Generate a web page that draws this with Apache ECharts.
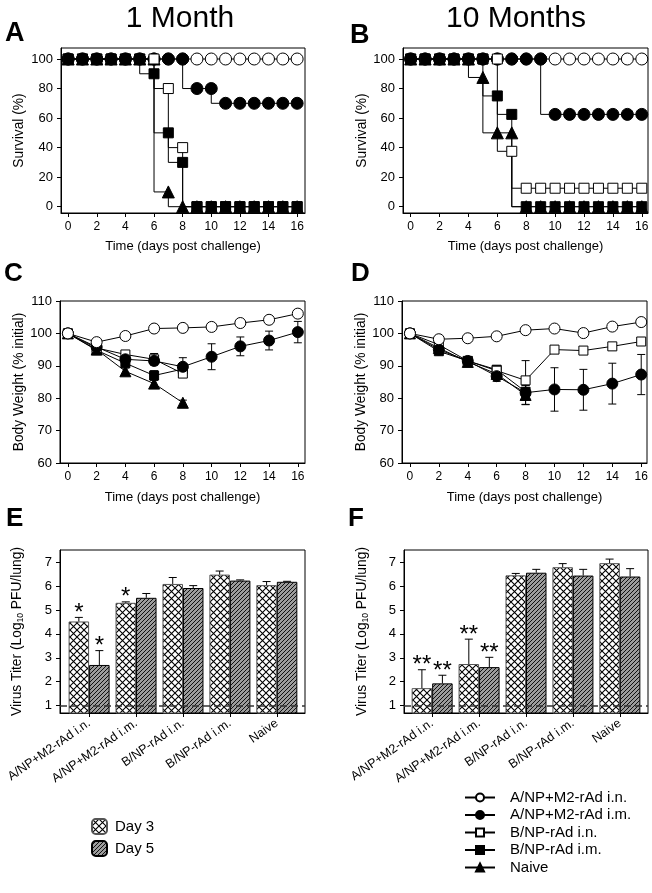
<!DOCTYPE html>
<html><head><meta charset="utf-8">
<script src="https://cdn.jsdelivr.net/npm/echarts@6/dist/echarts.min.js"></script>
<style>html,body{margin:0;padding:0;background:#fff}#c{width:652px;height:893px}</style>
</head><body><div id="c"></div>
<script>
const FONT = 'Liberation Sans, Arial, Helvetica, sans-serif';

// ---------- DATA ----------
const groups = ['A/NP+M2-rAd i.n.', 'A/NP+M2-rAd i.m.', 'B/NP-rAd i.n.', 'B/NP-rAd i.m.', 'Naive'];
const survDays = [0,1,2,3,4,5,6,7,8,9,10,11,12,13,14,15,16];
const timeTicks = [0,2,4,6,8,10,12,14,16];
const survTicks = [0,20,40,60,80,100];

// Panel A - survival, 1 month
const survA_ANPin = [100,100,100,100,100,100,100,100,100,100,100,100,100,100,100,100,100];
const survA_ANPim = [100,100,100,100,100,100,100,100,100,80,80,70,70,70,70,70,70];
const survA_BNPin = [100,100,100,100,100,100,100,80,40,0,0,0,0,0,0,0,0];
const survA_BNPim = [100,100,100,100,100,100,90,50,30,0,0,0,0,0,0,0,0];
const survA_Naive = [100,100,100,100,100,100,100,10,0,0,0,0,0,0,0,0,0];
// Panel B - survival, 10 months
const survB_ANPin = [100,100,100,100,100,100,100,100,100,100,100,100,100,100,100,100,100];
const survB_ANPim = [100,100,100,100,100,100,100,100,100,100,62.5,62.5,62.5,62.5,62.5,62.5,62.5];
const survB_BNPin = [100,100,100,100,100,100,100,37.5,12.5,12.5,12.5,12.5,12.5,12.5,12.5,12.5,12.5];
const survB_BNPim = [100,100,100,100,100,100,75,62.5,0,0,0,0,0,0,0,0,0];
const survB_Naive = [100,100,100,100,100,87.5,50,50,0,0,0,0,0,0,0,0,0];

// Panel C - body weight, 1 month
const bwDays = [0,2,4,6,8,10,12,14,16];
const bwC_ANPin = [100, 97.3, 99.2, 101.5, 101.7, 102.0, 103.2, 104.2, 106.1];
const bwC_ANPin_err = [0, 0.8, 0.8, 0.8, 0.8, 0.8, 0.8, 0.8, 1.0];
const bwC_ANPim = [100, 95.8, 92.0, 91.5, 89.7, 92.8, 96.0, 97.8, 100.4];
const bwC_ANPim_err = [0, 1.0, 1.0, 1.0, 2.8, 4.0, 2.9, 2.9, 3.3];
const bwC_BNPin = [100, 95.5, 93.5, 92.0, 87.6];
const bwC_BNPin_err = [0, 1.0, 1.0, 1.8, 1.2];
const bwC_BNPim = [100, 94.8, 90.8, 87.0, 89.0];
const bwC_BNPim_err = [0, 1.0, 1.0, 1.5, 1.5];
const bwC_Naive = [100, 95.0, 88.3, 84.5, 78.6];
const bwC_Naive_err = [0, 1.0, 1.0, 1.4, 0.8];
// Panel D - body weight, 10 months
const bwD_ANPin = [100, 98.2, 98.5, 99.1, 101.0, 101.5, 100.1, 102.1, 103.5];
const bwD_ANPin_err = [0, 0.6, 0.6, 0.6, 0.8, 0.8, 0.8, 0.8, 1.0];
const bwD_ANPim = [100, 95.0, 91.5, 86.8, 81.7, 82.7, 82.6, 84.5, 87.3];
const bwD_ANPim_err = [0, 1.0, 1.0, 1.6, 3.6, 6.7, 6.3, 6.3, 6.2];
const bwD_BNPin = [100, 96.5, 91.5, 88.5, 85.5, 95.0, 94.7, 96.0, 97.5];
const bwD_BNPin_err = [0, 1.0, 1.0, 1.0, 6.1, 1.0, 0.8, 1.0, 1.0];
const bwD_BNPim = [100, 94.5, 91.5, 88.8, 82.0];
const bwD_BNPim_err = [0, 1.0, 1.0, 1.0, 2.0];
const bwD_Naive = [100, 95.5, 91.2, 87.5, 81.0];
const bwD_Naive_err = [0, 1.0, 1.0, 1.0, 3.0];

// Panels E/F - virus titers
const titerCats = ['A/NP+M2-rAd i.n.', 'A/NP+M2-rAd i.m.', 'B/NP-rAd i.n.', 'B/NP-rAd i.m.', 'Naive'];
const titerTicks = [1,2,3,4,5,6,7];
const titerE_d3 = [4.52, 5.30, 6.09, 6.48, 6.04];
const titerE_d3_err = [0.17, 0.04, 0.27, 0.15, 0.15];
const titerE_d5 = [2.70, 5.51, 5.92, 6.23, 6.18];
const titerE_d5_err = [0.60, 0.18, 0.10, 0.03, 0.02];
const sigE_d3 = ['*', '*', '', '', ''];
const sigE_d5 = ['*', '', '', '', ''];
const titerF_d3 = [1.73, 2.74, 6.45, 6.79, 6.96];
const titerF_d3_err = [0.77, 1.04, 0.08, 0.15, 0.17];
const titerF_d5 = [1.93, 2.61, 6.56, 6.44, 6.40];
const titerF_d5_err = [0.34, 0.41, 0.14, 0.26, 0.33];
const sigF_d3 = ['**', '**', '', '', ''];
const sigF_d5 = ['**', '**', '', '', ''];
const detectionLimit = 1;

// ---------- STYLES ----------
const markers = [
  {symbol: 'circle', fill: '#fff'},
  {symbol: 'circle', fill: '#000'},
  {symbol: 'rect', fill: '#fff'},
  {symbol: 'rect', fill: '#000'},
  {symbol: 'triangle', fill: '#000'}
];
const drawOrder = [0, 1, 4, 2, 3];

function crossHatch() {
  const s = 7, c = document.createElement('canvas'); c.width = c.height = s;
  const g = c.getContext('2d');
  g.fillStyle = '#fff'; g.fillRect(0, 0, s, s);
  g.strokeStyle = '#000'; g.lineWidth = 1.1;
  g.beginPath(); g.moveTo(0, 0); g.lineTo(s, s); g.moveTo(s, 0); g.lineTo(0, s); g.stroke();
  return c;
}
function stripes() {
  const s = 4, c = document.createElement('canvas'); c.width = c.height = s;
  const g = c.getContext('2d');
  g.fillStyle = '#9c9c9c'; g.fillRect(0, 0, s, s);
  g.strokeStyle = '#111'; g.lineWidth = 1;
  g.beginPath();
  g.moveTo(0, s); g.lineTo(s, 0);
  g.moveTo(-1, 1); g.lineTo(1, -1);
  g.moveTo(s - 1, s + 1); g.lineTo(s + 1, s - 1);
  g.stroke();
  return c;
}
const patDay3 = {image: crossHatch(), repeat: 'repeat'};
const patDay5 = {image: stripes(), repeat: 'repeat'};

const txt = {color: '#000', fontFamily: FONT};

// ---------- GRIDS ----------
const grids = [
  {left: 61, top: 48, width: 244, height: 165},
  {left: 403, top: 48, width: 245, height: 165},
  {left: 60, top: 301, width: 245, height: 162},
  {left: 402, top: 301, width: 245, height: 162},
  {left: 60, top: 550, width: 245, height: 163},
  {left: 404, top: 550, width: 244, height: 163}
].map(g => Object.assign({show: true, borderColor: '#000', borderWidth: 1, containLabel: false}, g));

function timeAxis(gi, min, max, gap) {
  return {
    type: 'value', gridIndex: gi, min, max,
    axisLine: {show: true, onZero: false, lineStyle: {color: '#000', width: 1}},
    axisTick: {show: true, inside: false, length: 4, customValues: timeTicks, lineStyle: {color: '#000'}},
    axisLabel: Object.assign({customValues: timeTicks, margin: 8, fontSize: 12}, txt),
    splitLine: {show: false},
    name: 'Time (days post challenge)', nameLocation: 'middle', nameGap: gap,
    nameTextStyle: Object.assign({fontSize: 13}, txt)
  };
}
function titerXAxis(gi, min, max) {
  return {
    type: 'value', gridIndex: gi, min, max,
    axisLine: {show: true, onZero: false, lineStyle: {color: '#000', width: 1}},
    axisTick: {show: true, inside: false, length: 4, customValues: [0,1,2,3,4], lineStyle: {color: '#000'}},
    axisLabel: Object.assign({customValues: [0,1,2,3,4], margin: 9, fontSize: 12.5, rotate: 35,
      formatter: v => titerCats[Math.round(v)]}, txt),
    splitLine: {show: false}
  };
}
function yAxisCommon(gi, extra) {
  return Object.assign({
    type: 'value', gridIndex: gi,
    axisLine: {show: true, onZero: false, lineStyle: {color: '#000', width: 1}},
    axisTick: {show: true, inside: false, length: 4, lineStyle: {color: '#000'}},
    axisLabel: Object.assign({margin: 8, fontSize: 13}, txt),
    splitLine: {show: false},
    nameLocation: 'middle',
    nameTextStyle: Object.assign({fontSize: 13.8}, txt)
  }, extra);
}

const xAxes = [
  timeAxis(0, -0.5, 16.55, 27),
  timeAxis(1, -0.53, 16.43, 27),
  timeAxis(2, -0.55, 16.5, 28),
  timeAxis(3, -0.55, 16.4, 28),
  titerXAxis(4, -0.62, 4.6),
  titerXAxis(5, -0.6, 4.6)
];
const survY = (gi, gap) => yAxisCommon(gi, {min: -4.27, max: 107.45,
  axisTick: {show: true, inside: false, length: 4, customValues: survTicks, lineStyle: {color: '#000'}},
  axisLabel: Object.assign({customValues: survTicks, margin: 8, fontSize: 13}, txt),
  name: 'Survival (%)', nameGap: gap});
const bwY = (gi, gap) => yAxisCommon(gi, {min: 60, max: 110, interval: 10,
  name: 'Body Weight (% initial)', nameGap: gap});
const titerY = (gi, gap) => yAxisCommon(gi, {min: 0.69, max: 7.51,
  axisTick: {show: true, inside: false, length: 4, customValues: titerTicks, lineStyle: {color: '#000'}},
  axisLabel: Object.assign({customValues: titerTicks, margin: 8, fontSize: 13}, txt),
  name: '{a|Virus Titer (Log}{s|10}{a| PFU/lung)}', nameGap: gap,
  nameTextStyle: {rich: {a: Object.assign({fontSize: 13.8, lineHeight: 16, verticalAlign: 'middle'}, txt),
                         s: Object.assign({fontSize: 8.5, lineHeight: 16, verticalAlign: 'bottom', padding: [4,0,0,0]}, txt)}}});
const yAxes = [survY(0, 35), survY(1, 33), bwY(2, 34), bwY(3, 32), titerY(4, 35), titerY(5, 34)];

// ---------- SERIES ----------
const series = [];
function lineSeries(gi, gIdx, xs, ys, size, step) {
  const m = markers[gIdx];
  series.push({
    type: 'line', name: groups[gIdx], xAxisIndex: gi, yAxisIndex: gi, z: 3,
    data: ys.map((v, i) => [xs[i], v]),
    step: step ? 'start' : false,
    symbol: m.symbol, symbolSize: m.symbol === 'rect' ? size - 2 : size,
    showSymbol: true, showAllSymbol: true,
    lineStyle: {color: '#000', width: 1},
    itemStyle: {color: m.fill, borderColor: '#000', borderWidth: 1, opacity: 1},
    emphasis: {disabled: true}, silent: true
  });
}
function errSeries(gi, xs, ys, es) {
  series.push({
    type: 'custom', xAxisIndex: gi, yAxisIndex: gi, z: 2, silent: true,
    data: ys.map((v, i) => [xs[i], v, es[i]]),
    renderItem: (p, api) => {
      const x = api.value(0), y = api.value(1), e = api.value(2);
      if (!e) return null;
      const a = api.coord([x, y - e]), b = api.coord([x, y + e]);
      const st = {stroke: '#000', lineWidth: 1};
      return {type: 'group', children: [
        {type: 'line', shape: {x1: a[0], y1: a[1], x2: b[0], y2: b[1]}, style: st},
        {type: 'line', shape: {x1: a[0] - 4, y1: a[1], x2: a[0] + 4, y2: a[1]}, style: st},
        {type: 'line', shape: {x1: b[0] - 4, y1: b[1], x2: b[0] + 4, y2: b[1]}, style: st}
      ]};
    }
  });
}

const survA = [survA_ANPin, survA_ANPim, survA_BNPin, survA_BNPim, survA_Naive];
const survB = [survB_ANPin, survB_ANPim, survB_BNPin, survB_BNPim, survB_Naive];
drawOrder.forEach(k => lineSeries(0, k, survDays, survA[k], 12, true));
drawOrder.forEach(k => lineSeries(1, k, survDays, survB[k], 12, true));

const bwC = [bwC_ANPin, bwC_ANPim, bwC_BNPin, bwC_BNPim, bwC_Naive];
const bwCe = [bwC_ANPin_err, bwC_ANPim_err, bwC_BNPin_err, bwC_BNPim_err, bwC_Naive_err];
const bwD = [bwD_ANPin, bwD_ANPim, bwD_BNPin, bwD_BNPim, bwD_Naive];
const bwDe = [bwD_ANPin_err, bwD_ANPim_err, bwD_BNPin_err, bwD_BNPim_err, bwD_Naive_err];
[4, 3, 2, 1, 0].forEach(k => { errSeries(2, bwDays, bwC[k], bwCe[k]); lineSeries(2, k, bwDays, bwC[k], 11, false); });
[4, 3, 2, 1, 0].forEach(k => { errSeries(3, bwDays, bwD[k], bwDe[k]); lineSeries(3, k, bwDays, bwD[k], 11, false); });

const BAR_W = 20.5;
function barSeries(gi, name, vals, pat, border) {
  series.push({
    type: 'bar', name, xAxisIndex: gi, yAxisIndex: gi, z: 2,
    data: vals.map((v, i) => [i, v]),
    barWidth: BAR_W, barGap: '0%', clip: true,
    itemStyle: {color: pat, borderColor: border, borderWidth: 1},
    emphasis: {disabled: true}, silent: true
  });
}
function barErr(gi, vals, errs, sigs, side) {
  series.push({
    type: 'custom', xAxisIndex: gi, yAxisIndex: gi, z: 4, silent: true,
    data: vals.map((v, i) => [i, v + errs[i], v]),
    renderItem: (p, api) => {
      const x = api.value(0), t = api.value(1), v = api.value(2);
      const a = api.coord([x, v]), b = api.coord([x, t]);
      const dx = side * BAR_W / 2;
      const st = {stroke: '#000', lineWidth: 1};
      const ch = [
        {type: 'line', shape: {x1: a[0] + dx, y1: a[1], x2: b[0] + dx, y2: b[1]}, style: st},
        {type: 'line', shape: {x1: b[0] + dx - 4, y1: b[1], x2: b[0] + dx + 4, y2: b[1]}, style: st}
      ];
      const s = sigs[p.dataIndex];
      if (s) ch.push({type: 'text', x: b[0] + dx, y: b[1] - 4,
        style: {text: s, fill: '#000', font: '24px ' + FONT, align: 'center', verticalAlign: 'middle'}});
      return {type: 'group', children: ch};
    }
  });
}
barSeries(4, 'Day 3', titerE_d3, patDay3, '#555');
barSeries(4, 'Day 5', titerE_d5, patDay5, '#000');
barSeries(5, 'Day 3', titerF_d3, patDay3, '#555');
barSeries(5, 'Day 5', titerF_d5, patDay5, '#000');
barErr(4, titerE_d3, titerE_d3_err, sigE_d3, -1);
barErr(4, titerE_d5, titerE_d5_err, sigE_d5, 1);
barErr(5, titerF_d3, titerF_d3_err, sigF_d3, -1);
barErr(5, titerF_d5, titerF_d5_err, sigF_d5, 1);
[4, 5].forEach(gi => series.push({
  type: 'line', xAxisIndex: gi, yAxisIndex: gi, data: [], z: 5, silent: true,
  markLine: {silent: true, symbol: ['none', 'none'], label: {show: false},
    lineStyle: {color: '#333', width: 1.5, type: [7, 4]},
    data: [{yAxis: detectionLimit}], animation: false}
}));

// ---------- TITLES ----------
const t = (text, x, y, font, align) => ({type: 'text', x, y, silent: true,
  style: {text, fill: '#000', font: font + ' ' + FONT, align: align || 'left', verticalAlign: 'top'}});
const graphic = [
  t('1 Month', 180, 4, '30px', 'center'),
  t('10 Months', 516, 4, '30px', 'center'),
  t('A', 5, 20, 'bold 27px'), t('B', 350, 22, 'bold 27px'),
  t('C', 4, 261, 'bold 26px'), t('D', 351, 261, 'bold 26px'),
  t('E', 6, 506, 'bold 26px'), t('F', 348, 506, 'bold 26px')
];

const chart = echarts.init(document.getElementById('c'), null, {renderer: 'canvas'});
chart.setOption({
  animation: false,
  backgroundColor: '#fff',
  textStyle: {fontFamily: FONT},
  grid: grids, xAxis: xAxes, yAxis: yAxes, series, graphic,
  legend: [
    {data: groups, orient: 'vertical', left: 459, top: 785, itemWidth: 30, itemHeight: 10, itemGap: 2.5,
     selectedMode: false, textStyle: Object.assign({fontSize: 15, padding: [0, 0, 0, 10]}, txt)},
    {data: ['Day 3', 'Day 5'], orient: 'vertical', left: 86, top: 813, itemWidth: 15, itemHeight: 15, itemGap: 5,
     selectedMode: false, textStyle: Object.assign({fontSize: 15, padding: [0, 0, 0, 3]}, txt)}
  ]
});
</script></body></html>
